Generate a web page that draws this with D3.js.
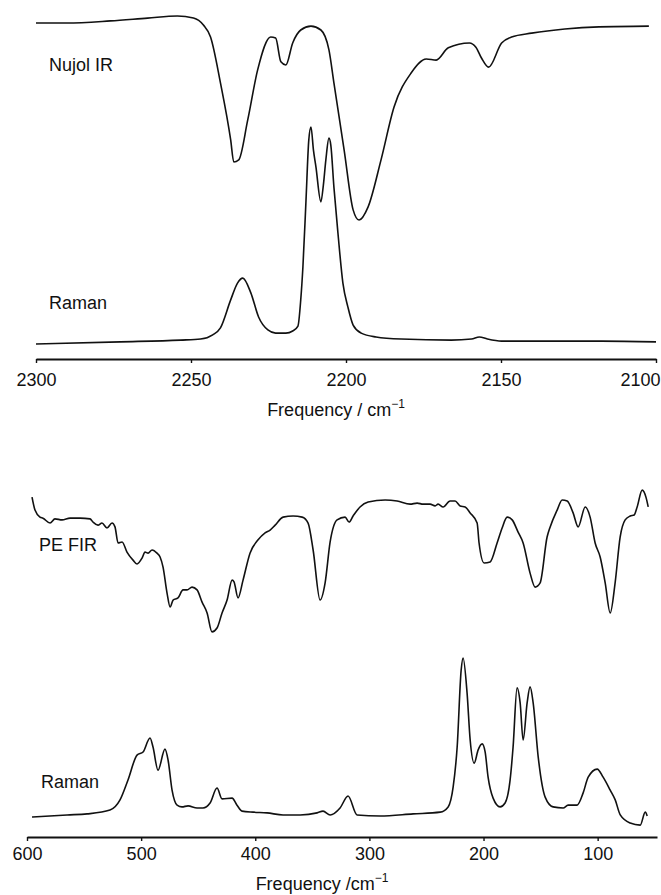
<!DOCTYPE html>
<html>
<head>
<meta charset="utf-8">
<script src="https://cdn.jsdelivr.net/npm/d3@7"></script>
<style>
  body { margin: 0; background: #fff; }
  svg { display: block; }
  text { font-family: "Liberation Sans", Arial, sans-serif; fill: #111; }
</style>
</head>
<body>
<div id="chart"></div>
<script>
// spectra (x = wavenumber, y = relative intensity 0-100)

// top panel: 2300-2100 cm-1
const nujolFreq = [2300, 2290, 2276, 2264, 2254.4, 2249.2, 2246, 2243.7, 2240.5, 2237.2, 2236.2, 2234.6, 2231.7, 2228.5, 2224.3, 2222.7, 2221, 2219.4, 2217.2, 2214.6, 2211.3, 2208.1, 2205.5, 2203.9, 2200.6, 2197.7, 2195.8, 2192.9, 2188.7, 2184.5, 2179, 2174.1, 2170.9, 2167, 2160.2, 2158.1, 2156.3, 2154, 2149.8, 2146.6, 2140.1, 2129.4, 2118.4, 2102.3];
const nujolIR = [96.0, 96.0, 96.6, 97.4, 98.0, 97.4, 95.4, 92.0, 78.9, 62.6, 56.3, 56.9, 68.3, 82.6, 92.0, 91.7, 84.9, 84.0, 90.3, 94.0, 95.1, 94.0, 88.3, 78.9, 59.7, 42.6, 39.7, 43.4, 56.9, 72.0, 81.7, 85.7, 85.4, 88.9, 90.3, 89.1, 86.0, 83.4, 90.3, 92.0, 93.1, 94.3, 94.9, 95.1];

const ramanTopFreq = [2300, 2272.8, 2253.4, 2246.9, 2243, 2240.5, 2237.2, 2235, 2233.3, 2230.7, 2228.2, 2225.2, 2222.7, 2219.4, 2217.2, 2215.5, 2214.6, 2213.9, 2212.9, 2212, 2211.3, 2210.5, 2209.7, 2208.1, 2207.3, 2206.5, 2205.5, 2204.9, 2203.9, 2202.6, 2201, 2199.4, 2197.7, 2195.1, 2190.3, 2182.2, 2166, 2159.5, 2157, 2154.4, 2149.8, 2133.7, 2117.5, 2100];
const ramanTop = [4.3, 4.9, 5.4, 5.7, 6.9, 8.9, 16.9, 21.7, 23.1, 18.9, 12.0, 8.3, 7.4, 7.4, 8.0, 9.4, 16.9, 26.3, 45.4, 62.6, 66.3, 59.7, 54.9, 44.9, 49.7, 56.9, 63.1, 61.1, 49.1, 36.0, 21.7, 14.9, 9.7, 7.4, 6.3, 5.7, 5.4, 5.7, 6.3, 5.7, 5.1, 5.1, 5.1, 4.9];

// bottom panel: 600-50 cm-1
const firFreq = [595.6, 593.0, 588.6, 586.0, 579.8, 575.5, 569.3, 562.3, 553.5, 544.8, 542.2, 537.8, 534.3, 529.9, 525.5, 522.9, 520.2, 516.7, 512.4, 507.1, 503.6, 499.2, 496.6, 493.9, 490.4, 486.1, 483.4, 480.8, 477.3, 474.6, 472.0, 467.7, 463.3, 459.8, 455.4, 451.0, 446.6, 442.2, 437.9, 433.5, 429.1, 424.7, 420.3, 418.6, 415.1, 410.7, 404.6, 397.5, 391.4, 387.0, 382.6, 375.6, 366.9, 358.9, 353.7, 349.3, 343.2, 338.8, 334.4, 328.3, 321.3, 317.8, 314.3, 308.2, 301.1, 286.2, 275.7, 264.3, 258.2, 252.9, 246.8, 242.4, 239.8, 235.4, 229.3, 224.9, 220.5, 216.1, 211.7, 205.6, 203.9, 199.5, 194.2, 188.1, 183.7, 179.3, 174.9, 169.7, 165.3, 159.2, 154.8, 150.4, 144.3, 141.6, 135.5, 131.1, 126.7, 121.5, 117.1, 110.9, 106.6, 102.2, 97.8, 93.4, 89.0, 84.7, 80.3, 75.9, 71.5, 68.0, 65.4, 61.0, 57.5, 55.7];
const fir = [97.1, 93.4, 91.4, 91.1, 89.7, 90.9, 90.6, 91.1, 91.1, 90.9, 90.0, 89.1, 89.7, 88.3, 89.7, 88.6, 84.0, 84.3, 81.4, 79.1, 78.0, 79.7, 81.4, 81.1, 82.0, 81.1, 80.0, 77.1, 69.7, 65.7, 67.7, 68.3, 70.6, 70.6, 71.4, 70.6, 67.1, 64.0, 58.6, 59.7, 64.0, 67.7, 73.4, 72.9, 68.3, 73.4, 81.1, 84.9, 86.9, 87.7, 89.1, 91.4, 91.7, 91.4, 89.7, 82.0, 67.7, 72.6, 84.3, 90.6, 91.4, 90.0, 91.7, 94.3, 95.7, 96.3, 96.0, 95.1, 95.4, 95.1, 95.1, 94.6, 95.1, 94.3, 96.0, 96.0, 94.6, 94.3, 92.6, 89.7, 84.0, 78.3, 78.6, 84.0, 88.3, 91.4, 90.6, 87.1, 84.0, 75.4, 71.4, 72.6, 85.7, 88.6, 93.4, 96.3, 96.0, 92.6, 88.6, 94.3, 91.4, 84.0, 80.0, 72.6, 64.0, 72.6, 85.7, 90.6, 91.7, 92.0, 94.3, 99.1, 96.9, 94.3];

const ramanBotFreq = [595.6, 564.9, 547.4, 527.3, 518.5, 511.5, 503.6, 498.3, 492.2, 489.6, 485.2, 479.1, 476.4, 472.9, 468.5, 464.2, 458.9, 451.0, 445.8, 439.6, 433.5, 429.1, 420.3, 416.0, 411.6, 401.9, 389.7, 375.6, 360.7, 345.8, 340.6, 334.4, 325.7, 318.7, 310.8, 290.6, 261.7, 238.0, 231.0, 226.6, 223.1, 219.6, 217.9, 214.4, 211.7, 208.2, 204.7, 201.2, 198.6, 196.0, 191.6, 185.5, 181.1, 176.7, 174.1, 170.6, 167.9, 165.3, 161.8, 159.2, 156.5, 152.1, 146.0, 139.0, 130.2, 125.9, 118.0, 112.7, 108.3, 100.4, 95.2, 89.0, 84.6, 80.2, 71.5, 62.7, 58.3, 56.6];
const ramanBot = [5.7, 6.3, 6.6, 7.7, 10.6, 16.3, 23.4, 24.3, 28.3, 25.7, 19.1, 25.1, 22.0, 13.4, 9.1, 8.6, 8.9, 8.3, 8.3, 9.7, 14.0, 10.9, 11.1, 9.1, 7.4, 7.1, 6.9, 6.3, 6.3, 6.9, 7.4, 6.3, 8.3, 11.7, 6.3, 6.0, 6.6, 7.1, 8.6, 14.3, 25.7, 47.7, 51.1, 41.1, 27.7, 21.1, 24.9, 26.6, 24.3, 17.1, 11.1, 8.6, 9.7, 16.3, 25.7, 42.6, 38.3, 27.7, 38.3, 42.9, 38.3, 22.9, 11.4, 8.6, 8.3, 9.1, 9.1, 12.6, 17.1, 19.4, 17.1, 13.4, 10.6, 6.3, 4.0, 3.4, 7.1, 6.0];

const topTicks = [2300, 2250, 2200, 2150, 2100];
const bottomTicks = [600, 500, 400, 300, 200, 100];

const W = 661, H = 895;
const svg = d3.select("#chart").append("svg").attr("width", W).attr("height", H);

// scales
const xTop = d3.scaleLinear().domain([2300, 2100]).range([36, 656]);
const yTop = d3.scaleLinear().domain([0, 100]).range([359, 9]);
const xBot = d3.scaleLinear().domain([600, 48]).range([27, 657]);
const yBot = d3.scaleLinear().domain([0, 100]).range([837, 487]);

function drawSpectrum(x, y, freqs, vals) {
  const pts = freqs.map((f, i) => [f, vals[i]]);
  const line = d3.line()
    .x(d => x(d[0]))
    .y(d => y(d[1]))
    .curve(d3.curveMonotoneX);
  svg.append("path")
    .datum(pts)
    .attr("d", line)
    .attr("fill", "none")
    .attr("stroke", "#111")
    .attr("stroke-width", 1.6)
    .attr("stroke-linejoin", "round");
}

drawSpectrum(xTop, yTop, nujolFreq, nujolIR);
drawSpectrum(xTop, yTop, ramanTopFreq, ramanTop);
drawSpectrum(xBot, yBot, firFreq, fir);
drawSpectrum(xBot, yBot, ramanBotFreq, ramanBot);

function drawAxis(x, axisY, ticks, labelY, title, titleX, titleY) {
  const g = svg.append("g")
    .attr("transform", `translate(0,${axisY})`)
    .call(d3.axisBottom(x).tickValues(ticks).tickSize(4).tickSizeOuter(0).tickFormat(d3.format("d")));
  g.select(".domain").attr("stroke", "#111").attr("stroke-width", 1.8);
  g.selectAll(".tick line").attr("stroke", "#111").attr("stroke-width", 1.4);
  g.selectAll(".tick text")
    .attr("y", labelY)
    .attr("dy", 0)
    .attr("font-size", 18)
    .attr("font-family", "Liberation Sans, Arial, sans-serif")
    .attr("fill", "#111");

  const t = svg.append("text")
    .attr("x", titleX)
    .attr("y", titleY)
    .attr("text-anchor", "middle")
    .attr("font-size", 18);
  t.append("tspan").text(title);
  t.append("tspan").attr("font-size", 12).attr("dy", -8).text("\u22121");
  return g;
}

const topAxis = drawAxis(xTop, 359, topTicks, 27, "Frequency / cm", 336, 416);
// last label pushed inside the page edge
topAxis.selectAll(".tick text").filter(d => d === 2100)
  .attr("text-anchor", "end").attr("dx", 4);

drawAxis(xBot, 837, bottomTicks, 23, "Frequency /cm", 322, 890);

// series labels
const labels = [
  { text: "Nujol IR", x: 49, y: 71 },
  { text: "Raman", x: 49, y: 309 },
  { text: "PE FIR", x: 39, y: 551 },
  { text: "Raman", x: 41, y: 788 }
];
svg.selectAll(".series-label")
  .data(labels)
  .enter()
  .append("text")
  .attr("class", "series-label")
  .attr("x", d => d.x)
  .attr("y", d => d.y)
  .attr("font-size", 18)
  .text(d => d.text);
</script>
</body>
</html>
